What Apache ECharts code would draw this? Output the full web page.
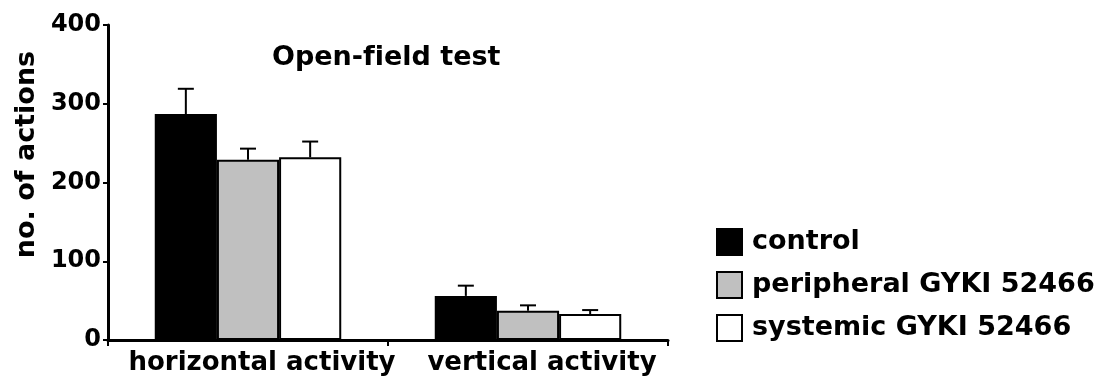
<!DOCTYPE html>
<html>
<head>
<meta charset="utf-8">
<script src="https://cdn.jsdelivr.net/npm/echarts@6/dist/echarts.min.js"></script>
<style>
  html, body { margin: 0; padding: 0; background: #fff; }
  #chart { width: 1106px; height: 388px; }
</style>
</head>
<body>
<div id="chart"></div>
<script>
// Open-field test: mean number of actions ± SEM per group
const categories = ['horizontal activity', 'vertical activity'];
const groups = ['control', 'peripheral GYKI 52466', 'systemic GYKI 52466'];
const controlMean = [287, 56];
const controlSem = [32, 13];
const peripheralMean = [229, 37];
const peripheralSem = [14, 7];
const systemicMean = [232, 33];
const systemicSem = [20, 5];
const yTicks = [0, 100, 200, 300, 400];

const means = [controlMean, peripheralMean, systemicMean];
const sems = [controlSem, peripheralSem, systemicSem];
const fills = ['#000000', '#c0c0c0', '#ffffff'];

const FONT = 'DejaVu Sans';
const BAR_FRACTION = 0.222; // bar width as a share of the category band

const barSeries = groups.map((name, i) => ({
  name,
  type: 'bar',
  data: means[i],
  barWidth: (BAR_FRACTION * 100) + '%',
  barGap: '0%',
  itemStyle: { color: fills[i], borderColor: '#000', borderWidth: 2 },
  z: 2
}));

// upward-only error bars centred on each bar
const errorSeries = groups.map((name, i) => ({
  name: name + ' SEM',
  type: 'custom',
  z: 3,
  silent: true,
  data: categories.map((c, k) => [k, means[i][k], sems[i][k]]),
  renderItem: (params, api) => {
    const k = api.value(0);
    const m = api.value(1);
    const e = api.value(2);
    const band = api.size([1, 0])[0];
    const dx = (i - 1) * band * BAR_FRACTION;
    const p0 = api.coord([k, m]);
    const p1 = api.coord([k, m + e]);
    const x = p0[0] + dx;
    const cap = 8;
    return {
      type: 'group',
      children: [
        { type: 'line', shape: { x1: x, y1: p0[1], x2: x, y2: p1[1] },
          style: { stroke: '#000', lineWidth: 2 } },
        { type: 'line', shape: { x1: x - cap, y1: p1[1], x2: x + cap, y2: p1[1] },
          style: { stroke: '#000', lineWidth: 2 } }
      ]
    };
  }
}));

const chart = echarts.init(document.getElementById('chart'), null, { renderer: 'canvas' });
chart.setOption({
  animation: false,
  backgroundColor: '#fff',
  textStyle: { fontFamily: FONT, fontWeight: 'bold', color: '#000' },
  title: {
    // zero-width non-joiner keeps "f" and "i" as separate glyphs
    text: 'Open-f\u200Cield test',
    left: 272,
    top: 44,
    padding: 0,
    textStyle: { fontFamily: FONT, fontWeight: 'bold', fontSize: 27, color: '#000' }
  },
  legend: {
    data: groups,
    orient: 'vertical',
    left: 716,
    top: 228,
    padding: 0,
    itemWidth: 25,
    itemHeight: 26,
    itemGap: 15,
    icon: 'rect',
    selectedMode: false,
    textStyle: { fontFamily: FONT, fontWeight: 'bold', fontSize: 27, color: '#000', padding: [0, 0, 0, 5] }
  },
  grid: { left: 108, right: 438, top: 25, bottom: 48, containLabel: false },
  xAxis: {
    type: 'category',
    data: categories,
    axisLine: { lineStyle: { color: '#000', width: 3 } },
    axisTick: { show: true, alignWithLabel: false, length: 6, lineStyle: { color: '#000', width: 2 } },
    axisLabel: {
      interval: 0,
      fontFamily: FONT, fontWeight: 'bold', fontSize: 26, color: '#000',
      margin: 10, padding: [0, 0, 0, 28]
    }
  },
  yAxis: {
    type: 'value',
    min: yTicks[0],
    max: yTicks[yTicks.length - 1],
    interval: 100,
    name: 'no. of actions',
    nameLocation: 'middle',
    nameRotate: 90,
    nameGap: 62,
    nameTextStyle: {
      fontFamily: FONT, fontWeight: 'bold', fontSize: 27, color: '#000',
      padding: [0, 0, 0, 56]
    },
    splitLine: { show: false },
    axisLine: { show: true, lineStyle: { color: '#000', width: 3 } },
    axisTick: { show: true, length: 5, lineStyle: { color: '#000', width: 2 } },
    axisLabel: { fontFamily: FONT, fontWeight: 'bold', fontSize: 24, color: '#000', margin: 7 }
  },
  series: [...barSeries, ...errorSeries]
});
</script>
</body>
</html>
